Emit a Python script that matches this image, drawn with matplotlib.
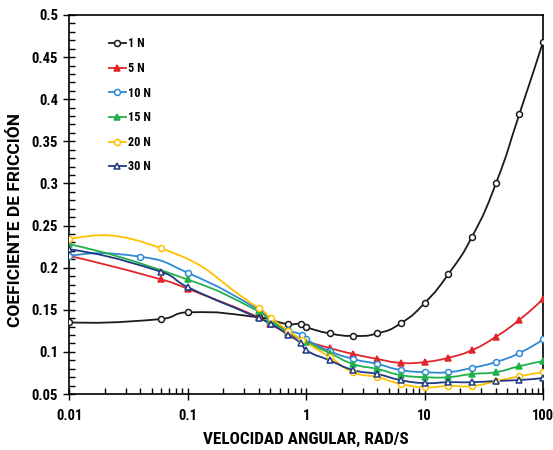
import numpy as np
import matplotlib
matplotlib.use('Agg')
import matplotlib.pyplot as plt
from matplotlib.path import Path
from matplotlib.patches import PathPatch
from matplotlib.lines import Line2D
from matplotlib.ticker import MultipleLocator, FixedLocator, NullFormatter, FormatStrFormatter

plt.rcParams['font.family'] = ['Roboto Condensed', 'Liberation Sans', 'DejaVu Sans']
plt.rcParams['font.weight'] = 'bold'

# data
x_1n = [0.01, 0.06, 0.1, 0.4, 0.7, 0.9, 1.0, 1.58, 2.5, 4.0, 6.3, 10, 15.8, 25, 40, 63, 100]
y_1n = [0.135, 0.139, 0.147, 0.141, 0.133, 0.133, 0.1295, 0.122, 0.119, 0.122, 0.134, 0.158,
        0.192, 0.236, 0.300, 0.382, 0.468]

x_5n = [0.01, 0.06, 0.1, 0.4, 0.5, 0.7, 1.0, 1.58, 2.5, 4.0, 6.3, 10, 15.8, 25, 40, 63, 100]
y_5n = [0.214, 0.186, 0.175, 0.141, 0.133, 0.122, 0.113, 0.1046, 0.0975, 0.0916, 0.087, 0.088,
        0.093, 0.102, 0.118, 0.138, 0.163]

x_10n = [0.01, 0.04, 0.1, 0.4, 0.5, 0.7, 0.93, 1.0, 1.58, 2.5, 4.0, 6.3, 10, 15.8, 25, 40, 63, 100]
y_10n = [0.214, 0.213, 0.194, 0.150, 0.138, 0.126, 0.120, 0.115, 0.101, 0.0916, 0.0856, 0.0785,
         0.076, 0.076, 0.081, 0.088, 0.0987, 0.115]

x_15n = [0.01, 0.1, 0.4, 0.5, 0.7, 1.0, 1.58, 2.5, 4.0, 6.3, 10, 15.8, 25, 40, 63, 100]
y_15n = [0.228, 0.186, 0.148, 0.137, 0.124, 0.112, 0.0987, 0.0856, 0.0797, 0.0725, 0.070, 0.070,
         0.0737, 0.076, 0.083, 0.089]

x_20n = [0.01, 0.06, 0.4, 0.51, 0.71, 0.93, 1.58, 2.5, 4.0, 6.3, 10, 15.8, 25, 40, 63, 100]
y_20n = [0.234, 0.223, 0.152, 0.140, 0.125, 0.114, 0.094, 0.076, 0.070, 0.062, 0.058, 0.0595,
         0.0595, 0.065, 0.071, 0.076]

x_30n = [0.01, 0.06, 0.1, 0.4, 0.51, 0.71, 0.91, 1.0, 1.58, 2.5, 4.0, 6.3, 10, 15.8, 25, 40, 63, 100]
y_30n = [0.222, 0.195, 0.177, 0.140, 0.133, 0.120, 0.110, 0.102, 0.090, 0.0785, 0.0737, 0.0665,
         0.063, 0.064, 0.064, 0.0655, 0.0666, 0.069]

labels = ['1 N', '5 N', '10 N', '15 N', '20 N', '30 N']
colors = ['#1a1a1a', '#e0262b', '#2f8ad6', '#22b04b', '#ffc000', '#1f3a84']
markers = ['o', '^', 'o', '^', 'o', '^']
faces = ['white', '#e0262b', 'white', '#22b04b', 'white', 'white']
series = [(x_1n, y_1n), (x_5n, y_5n), (x_10n, y_10n), (x_15n, y_15n), (x_20n, y_20n), (x_30n, y_30n)]

SX, SY = 119.0, 843.0  # px per decade / px per unit of y (for smoothing shape)


def smooth_path(x, y, k=0.55):
    ''' Excel-like smoothed line as a bezier path '''
    P = np.column_stack([np.log10(x) * SX, np.array(y) * SY])
    n = len(P)
    cin = P.copy()
    cout = P.copy()
    for i in range(1, n - 1):
        T = P[i + 1] - P[i - 1]
        dp = np.hypot(*(P[i] - P[i - 1]))
        dn = np.hypot(*(P[i + 1] - P[i]))
        cin[i] = P[i] - T * k * dp / (dp + dn)
        cout[i] = P[i] + T * k * dn / (dp + dn)
    cout[0] = P[0] + (cin[1] - P[0]) * 2 / 3
    cin[-1] = P[-1] + (cout[-2] - P[-1]) * 2 / 3
    verts = [P[0]]
    codes = [Path.MOVETO]
    for i in range(n - 1):
        verts += [cout[i], cin[i + 1], P[i + 1]]
        codes += [Path.CURVE4] * 3
    verts = np.array(verts)
    verts = np.column_stack([10 ** (verts[:, 0] / SX), verts[:, 1] / SY])
    return Path(verts, codes)


fig = plt.figure(figsize=(5.53, 4.5), dpi=100)
ax = fig.add_axes([0.125, 0.1244, 0.857, 0.8423])
ax.set_xscale('log')
ax.set_xlim(0.01, 100)
ax.set_ylim(0.05, 0.5)

for (xs, ys), c, m, fc, lab in zip(series, colors, markers, faces, labels):
    ax.add_patch(PathPatch(smooth_path(xs, ys), fill=False, edgecolor=c, lw=1.3, zorder=2))
    ax.plot(xs, ys, ls='none', marker=m, ms=4.3, mfc=fc, mec=c, mew=1.1, zorder=3)

handles = [Line2D([], [], color=c, lw=1.3, marker=m, ms=4.3, mfc=fc, mec=c, mew=1.1)
           for c, m, fc in zip(colors, markers, faces)]
ax.legend(handles, labels, loc='upper left', bbox_to_anchor=(0.06, 0.97), frameon=False,
          fontsize=8.8, labelspacing=0.95, handlelength=1.4, handletextpad=0.15)

ax.xaxis.set_major_locator(FixedLocator([0.01, 0.1, 1, 10, 100]))
ax.set_xticklabels(['0.01', '0.1', '1', '10', '100'])
ax.xaxis.set_minor_locator(FixedLocator(
    [m * 10.0 ** e for e in range(-2, 2) for m in range(2, 10)]))
ax.xaxis.set_minor_formatter(NullFormatter())
ax.yaxis.set_major_locator(MultipleLocator(0.05))
ax.yaxis.set_minor_locator(MultipleLocator(0.01))
ax.yaxis.set_major_formatter(FormatStrFormatter('%g'))

ax.tick_params(axis='both', which='major', direction='inout', length=8, width=1,
               labelsize=10.5)
ax.tick_params(axis='x', which='major', pad=7)
ax.tick_params(axis='y', which='major', pad=4)
ax.tick_params(axis='both', which='minor', direction='in', length=4, width=1)
for s in ax.spines.values():
    s.set_linewidth(1.2)

ax.set_xlabel('VELOCIDAD ANGULAR, RAD/S', fontsize=12.3, fontweight='bold', labelpad=6)
ax.set_ylabel('COEFICIENTE DE FRICCIÓN', fontsize=12.5, fontweight='bold',
              family=['Roboto', 'DejaVu Sans'])
ax.yaxis.set_label_coords(-0.097, 0.46)

plt.savefig('out.png', dpi=100)
